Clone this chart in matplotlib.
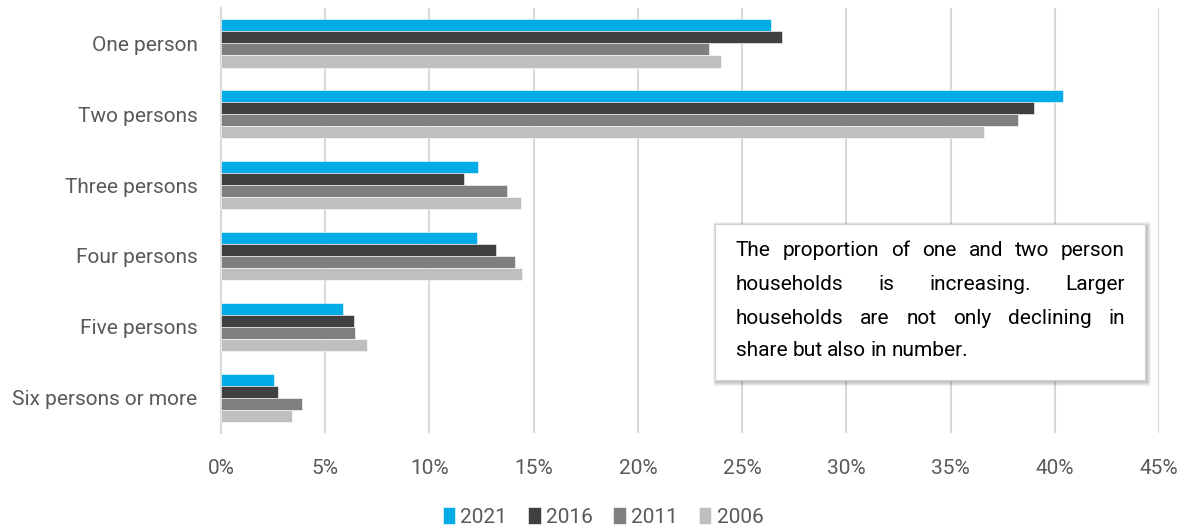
import numpy as np
import matplotlib
matplotlib.use("Agg")
import matplotlib.pyplot as plt
from matplotlib.patches import Rectangle

plt.rcParams['font.family'] = ['Roboto', 'DejaVu Sans']

# Household size shares (% of households)
categories = ["One person", "Two persons", "Three persons", "Four persons",
              "Five persons", "Six persons or more"]
years = ["2021", "2016", "2011", "2006"]
share_2021 = [26.4, 40.4, 12.35, 12.27, 5.83, 2.56]
share_2016 = [26.9, 39.0, 11.66, 13.2, 6.36, 2.72]
share_2011 = [23.4, 38.25, 13.73, 14.1, 6.44, 3.87]
share_2006 = [24.0, 36.6, 14.4, 14.45, 7.01, 3.40]
colors = ["#00ABE6", "#404040", "#7F7F7F", "#BFBFBF"]

W, H = 1190, 528
fig = plt.figure(figsize=(W / 100, H / 100), dpi=100)
ax = fig.add_axes([221 / W, 1 - 433 / H, (1159 - 221) / W, (433 - 8) / H])

y = np.arange(len(categories))
bar_h = 0.17
series = [share_2021, share_2016, share_2011, share_2006]
for i, (vals, yr, c) in enumerate(zip(series, years, colors)):
    ax.barh(y + (i - 1.5) * bar_h, vals, height=bar_h, color=c, label=yr,
            edgecolor="white", linewidth=0.4, zorder=3)

ax.set_ylim(len(categories) - 0.5, -0.5)
ax.set_xlim(0, 45)
ax.set_xticks(np.arange(0, 46, 5))
ax.set_xticklabels([f"{v}%" for v in range(0, 46, 5)])
ax.set_yticks(y)
ax.set_yticklabels(categories)
ax.grid(axis="x", color="#D9D9D9", linewidth=1.5, zorder=0)
for s in ["top", "right", "bottom"]:
    ax.spines[s].set_visible(False)
ax.spines["left"].set_color("#D9D9D9")
ax.spines["left"].set_linewidth(1.5)
ax.tick_params(axis="y", length=0, pad=17, labelsize=15, labelcolor="#595959")
ax.tick_params(axis="x", length=0, pad=19, labelsize=15, labelcolor="#595959")

leg = fig.legend(loc="center", bbox_to_anchor=(603 / W, 1 - 517 / H), ncol=4,
                 frameon=False, fontsize=15, handlelength=0.6, handleheight=0.9,
                 handletextpad=0.25, columnspacing=1.0)
for t in leg.get_texts():
    t.set_color("#595959")

# Note box with a soft drop shadow
bx0, by0, bx1, by1 = 715, 224, 1145, 380
for k, a in enumerate([0.05, 0.05, 0.06, 0.08]):
    d = 4 - k
    fig.patches.append(Rectangle(((bx0 - d + 2) / W, 1 - (by1 + d + 2) / H),
                                 (bx1 - bx0 + 2 * d) / W, (by1 - by0 + 2 * d) / H,
                                 transform=fig.transFigure, facecolor="black",
                                 edgecolor="none", alpha=a, zorder=5))
fig.patches.append(Rectangle((bx0 / W, 1 - by1 / H), (bx1 - bx0) / W, (by1 - by0) / H,
                             transform=fig.transFigure, facecolor="white",
                             edgecolor="#D0D0D0", linewidth=0.8, zorder=6))

# Justified text inside the box
lines = [["The", "proportion", "of", "one", "and", "two", "person"],
         ["households", "is", "increasing.", "Larger"],
         ["households", "are", "not", "only", "declining", "in"],
         ["share", "but", "also", "in", "number."]]
tx0, tx1 = 736, 1125
line_y = [251, 285, 318, 351]
renderer = fig.canvas.get_renderer()
space_w = 4.5
for li, (words, ly) in enumerate(zip(lines, line_y)):
    objs = [fig.text(0, 0, w, fontsize=15, color="black", va="center",
                     zorder=7) for w in words]
    widths = [o.get_window_extent(renderer).width for o in objs]
    if li < len(lines) - 1:
        gap = (tx1 - tx0 - sum(widths)) / (len(words) - 1)
    else:
        gap = space_w
    x = tx0
    for o, w in zip(objs, widths):
        o.set_position((x / W, 1 - ly / H))
        x += w + gap

fig.savefig("out.png", dpi=100)
